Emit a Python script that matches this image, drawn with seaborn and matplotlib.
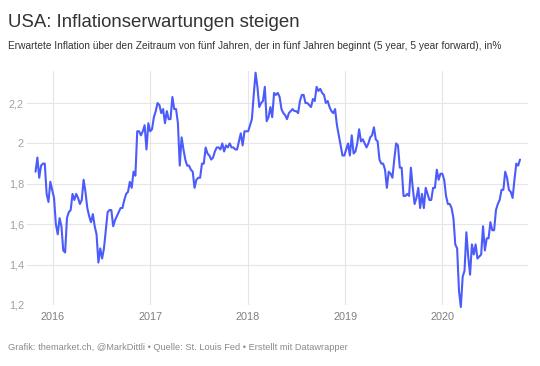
import matplotlib
matplotlib.use("Agg")
import matplotlib.pyplot as plt
import seaborn as sns
import pandas as pd

# ---- data (roughly weekly) ----
inflation_part1 = [
    1.86, 1.93, 1.83, 1.89, 1.90, 1.90, 1.75, 1.71, 1.81, 1.77,
    1.73, 1.60, 1.55, 1.63, 1.59, 1.47, 1.46, 1.63, 1.66, 1.67,
    1.75, 1.72, 1.75, 1.73, 1.70, 1.72, 1.82, 1.76, 1.68, 1.64,
    1.61, 1.65, 1.59, 1.55, 1.41, 1.48, 1.43, 1.48, 1.57, 1.66,
    1.67, 1.67, 1.59, 1.62, 1.64, 1.66, 1.68, 1.68, 1.72, 1.75,
    1.76, 1.81, 1.78, 1.86, 1.84, 2.06, 2.06, 2.04, 2.06, 2.09,
    1.97, 2.10, 2.06, 2.07, 2.13, 2.16, 2.20, 2.19, 2.15, 2.17,
    2.10, 2.16, 2.12, 2.12, 2.23, 2.17, 2.17, 2.10,
]
inflation_part2 = [
    1.89, 2.03, 1.97, 1.92, 1.89, 1.89, 1.87, 1.86, 1.78,
    1.82, 1.83, 1.83, 1.90, 1.90, 1.98, 1.95, 1.94, 1.92, 1.93,
    1.96, 1.98, 1.98, 1.97, 2.00, 1.96, 1.99, 1.98, 2.00, 1.98,
    1.98, 1.97, 1.97, 2.01, 2.05, 1.99, 2.06, 2.06, 2.06, 2.09,
    2.12, 2.24, 2.35, 2.28, 2.18, 2.20, 2.21, 2.28, 2.11, 2.13,
    2.18, 2.13, 2.25, 2.24, 2.25, 2.23, 2.17, 2.15, 2.14, 2.12,
    2.15, 2.16, 2.17, 2.16, 2.16, 2.15, 2.21, 2.24, 2.24, 2.20,
    2.20, 2.19, 2.18, 2.22, 2.21, 2.28, 2.26, 2.27, 2.25, 2.24,
    2.20, 2.21, 2.18, 2.16, 2.15, 2.17,
]
inflation_part3 = [
    2.09, 2.04, 1.99, 1.94, 1.94, 1.97, 2.00, 1.94, 2.04, 1.95,
    1.96, 2.00, 2.07, 2.01, 2.02, 2.00, 1.98, 2.00, 2.03, 2.04,
    2.08, 2.02, 2.01, 1.92, 1.90, 1.90, 1.87, 1.78, 1.86, 1.85,
    1.83, 1.92, 2.00, 1.99, 1.88, 1.88, 1.74, 1.74, 1.75, 1.74,
    1.88, 1.78, 1.70, 1.73, 1.78, 1.68, 1.75, 1.68, 1.78, 1.75,
    1.72, 1.72, 1.78, 1.78, 1.87, 1.82, 1.85, 1.85, 1.82, 1.74,
    1.70, 1.70, 1.68, 1.63, 1.50, 1.48, 1.27, 1.19, 1.34,
    1.37, 1.56, 1.44, 1.35, 1.50, 1.45, 1.50, 1.43, 1.44, 1.45,
    1.59, 1.47, 1.53, 1.53, 1.61, 1.57, 1.57, 1.67, 1.70, 1.72,
    1.77, 1.77, 1.86, 1.83, 1.77, 1.76, 1.73, 1.82, 1.90, 1.89,
    1.92,
]
first_date = "2015-10-28"
last_date = "2020-10-18"

y_ticks = [1.2, 1.4, 1.6, 1.8, 2.0, 2.2]
y_tick_labels = ["1,2", "1,4", "1,6", "1,8", "2", "2,2"]
x_years = ["2016", "2017", "2018", "2019", "2020"]

title = "USA: Inflationserwartungen steigen"
subtitle = ("Erwartete Inflation über den Zeitraum von fünf Jahren, der in fünf Jahren "
            "beginnt (5 year, 5 year forward), in%")
footer = "Grafik: themarket.ch, @MarkDittli • Quelle: St. Louis Fed • Erstellt mit Datawrapper"

values = inflation_part1 + inflation_part2 + inflation_part3
dates = pd.date_range(first_date, last_date, periods=len(values))
df = pd.DataFrame({"date": dates, "value": values})

# ---- style ----
sns.set_theme(style="white")
plt.rcParams["font.family"] = ["Liberation Sans", "DejaVu Sans"]

W, H = 540, 366
fig = plt.figure(figsize=(W / 100, H / 100), dpi=100)
ax_left, ax_right, ax_top, ax_bottom = 27, 528, 70.7, 305
ax = fig.add_axes([ax_left / W, 1 - ax_bottom / H,
                   (ax_right - ax_left) / W, (ax_bottom - ax_top) / H])

grid_col = "#e6e6e6"
sns.lineplot(data=df, x="date", y="value", ax=ax, color="#4c5cfb",
             linewidth=1.5, clip_on=False, zorder=3)

ax.set_ylim(1.2, 2.36)
ax.set_xlim(pd.Timestamp("2015-09-26"), pd.Timestamp("2020-11-17"))
ax.set_yticks(y_ticks)
ax.set_yticklabels(y_tick_labels)
ax.set_xticks([pd.Timestamp(f"{y}-01-01") for y in x_years])
ax.set_xticklabels(x_years)
ax.set_xlabel("")
ax.set_ylabel("")

ax.grid(True, axis="both", color=grid_col, linewidth=0.8, zorder=0)
for s in ax.spines.values():
    s.set_visible(False)

ax.tick_params(axis="y", length=0, pad=2.2, labelsize=7.8, labelcolor="#a0a0a0")
ax.tick_params(axis="x", length=2.2, width=0.8, color=grid_col, pad=3.2,
               labelsize=7.8, labelcolor="#808080")

fig.text(8 / W, 1 - 27 / H, title, fontsize=13.4, color="#333333", va="baseline", ha="left")
fig.text(8 / W, 1 - 49 / H, subtitle, fontsize=7.25, color="#333333", va="baseline", ha="left")
fig.text(8 / W, 1 - 350 / H, footer, fontsize=6.7, color="#8a8a8a", va="baseline", ha="left")

fig.savefig("out.png", dpi=100)
